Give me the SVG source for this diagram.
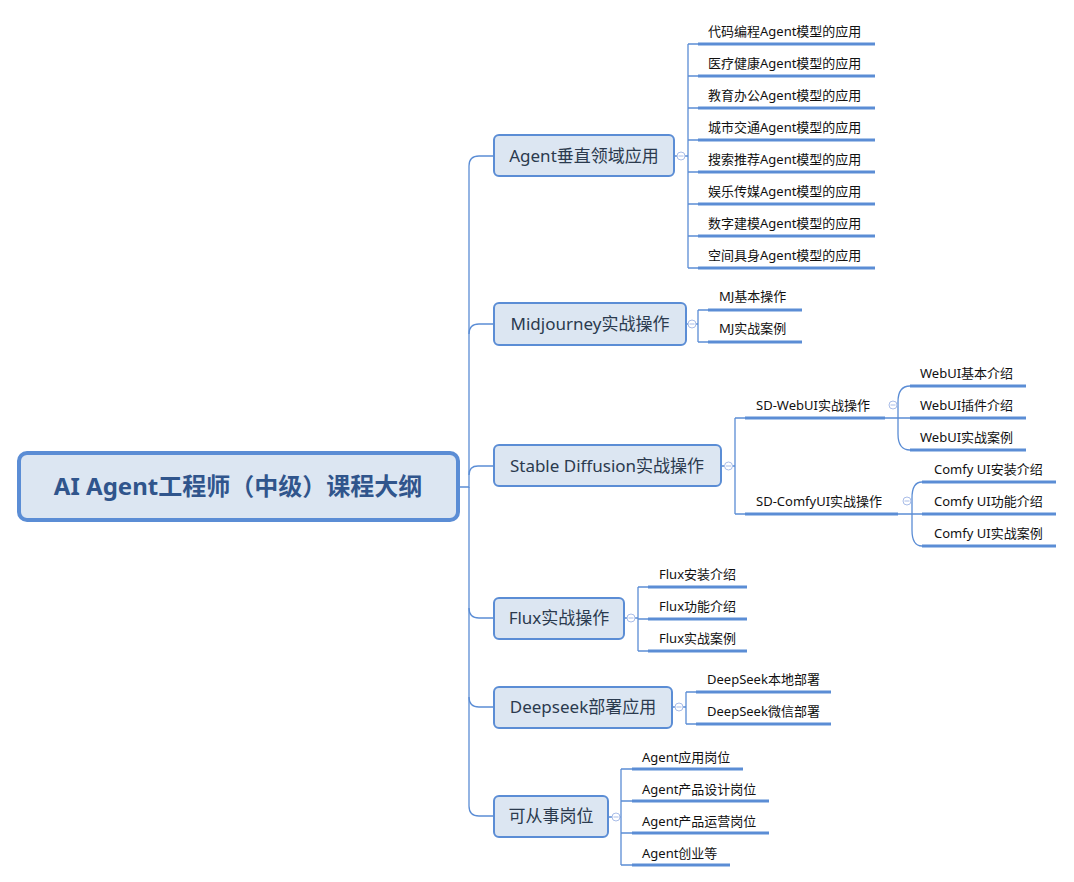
<svg xmlns="http://www.w3.org/2000/svg" width="1074" height="882" viewBox="0 0 1074 882">
<style>
.bg{fill:#ffffff}
.conn{fill:none;stroke:#5b8dd5;stroke-width:1.3}
.ul{stroke:#5b8dd5;stroke-width:3;stroke-linecap:butt}
.root{fill:#dce6f2;stroke:#5b8dd5;stroke-width:4}
.br{fill:#dce6f2;stroke:#5b8dd5;stroke-width:2}
.rt{font-family:"Noto Sans","Noto Sans CJK SC",sans-serif;font-size:24px;font-weight:bold;fill:#30558c;text-anchor:middle}
.bt{font-family:"Noto Sans","Noto Sans CJK SC",sans-serif;font-size:17px;fill:#2b3a4e;text-anchor:middle}
.lt{font-family:"Noto Sans","Noto Sans CJK SC",sans-serif;font-size:13px;fill:#111111}
.cb{fill:#ffffff;stroke:#a9bde8;stroke-width:1}
.cm{stroke:#a9bde8;stroke-width:1}
</style>
<rect class="bg" x="0" y="0" width="1074" height="882"/>

<g id="connectors">
  <!-- trunk from root -->
  <path class="conn" d="M458 487 H469 V166 Q469 156 479 156 H494"/>
  <path class="conn" d="M469 334 Q469 324 479 324 H494"/>
  <path class="conn" d="M469 475 Q469 466 478 466 H494"/>
  <path class="conn" d="M469 487 V806 Q469 816 479 816 H494"/>
  <path class="conn" d="M469 608 Q469 618 479 618 H494"/>
  <path class="conn" d="M469 697 Q469 707 479 707 H494"/>
  <!-- Agent leaves -->
  <path class="conn" d="M674 156 H688 M688 44 V268 M688 44 H698 M688 76 H698 M688 108 H698 M688 140 H698 M688 172 H698 M688 204 H698 M688 236 H698 M688 268 H698"/>
  <!-- MJ -->
  <path class="conn" d="M686 324 H698 M698 310 V342 M698 310 H708 M698 342 H708"/>
  <!-- SD -->
  <path class="conn" d="M721 466 H735 M735 418 V514 M735 418 H745 M735 514 H745"/>
  <path class="conn" d="M885 418 H910 M910 386 Q898 386 898 402 V434 Q898 450 910 450"/>
  <path class="conn" d="M898 514 H922 M922 482 Q912 482 912 498 V530 Q912 546 922 546"/>
  <!-- Flux -->
  <path class="conn" d="M624 618 H638 M638 587 V651 M638 587 H648 M638 619 H648 M638 651 H648"/>
  <!-- Deepseek -->
  <path class="conn" d="M672 707 H686 M686 692 V724 M686 692 H696 M686 724 H696"/>
  <!-- Jobs -->
  <path class="conn" d="M608 817 H621 M621 769 V865 M621 769 H632 M621 801 H632 M621 833 H632 M621 865 H632"/>
</g>

<g id="root">
  <rect class="root" x="19" y="453" width="439" height="67" rx="8"/>
  <text class="rt" x="238" y="495">AI Agent工程师（中级）课程大纲</text>
</g>

<g id="n-agent">
  <rect class="br" x="494" y="135" width="180" height="41" rx="5"/>
  <text class="bt" x="584" y="162">Agent垂直领域应用</text>
  <circle class="cb" cx="681" cy="156" r="4"/><path class="cm" d="M678.5 156 H683.5"/>
</g>
<g id="l-agent-1"><text class="lt" x="708" y="36">代码编程Agent模型的应用</text><line class="ul" x1="698" y1="44" x2="875" y2="44"/></g>
<g id="l-agent-2"><text class="lt" x="708" y="68">医疗健康Agent模型的应用</text><line class="ul" x1="698" y1="76" x2="875" y2="76"/></g>
<g id="l-agent-3"><text class="lt" x="708" y="100">教育办公Agent模型的应用</text><line class="ul" x1="698" y1="108" x2="875" y2="108"/></g>
<g id="l-agent-4"><text class="lt" x="708" y="132">城市交通Agent模型的应用</text><line class="ul" x1="698" y1="140" x2="875" y2="140"/></g>
<g id="l-agent-5"><text class="lt" x="708" y="164">搜索推荐Agent模型的应用</text><line class="ul" x1="698" y1="172" x2="875" y2="172"/></g>
<g id="l-agent-6"><text class="lt" x="708" y="196">娱乐传媒Agent模型的应用</text><line class="ul" x1="698" y1="204" x2="875" y2="204"/></g>
<g id="l-agent-7"><text class="lt" x="708" y="228">数字建模Agent模型的应用</text><line class="ul" x1="698" y1="236" x2="875" y2="236"/></g>
<g id="l-agent-8"><text class="lt" x="708" y="260">空间具身Agent模型的应用</text><line class="ul" x1="698" y1="268" x2="875" y2="268"/></g>

<g id="n-mj">
  <rect class="br" x="494" y="303" width="192" height="42" rx="5"/>
  <text class="bt" x="590" y="330">Midjourney实战操作</text>
  <circle class="cb" cx="692" cy="324" r="4"/><path class="cm" d="M689.5 324 H694.5"/>
</g>
<g id="l-mj-1"><text class="lt" x="719" y="301">MJ基本操作</text><line class="ul" x1="708" y1="310" x2="802" y2="310"/></g>
<g id="l-mj-2"><text class="lt" x="719" y="333">MJ实战案例</text><line class="ul" x1="708" y1="342" x2="802" y2="342"/></g>

<g id="n-sd">
  <rect class="br" x="494" y="445" width="227" height="41" rx="5"/>
  <text class="bt" x="607" y="472">Stable Diffusion实战操作</text>
  <circle class="cb" cx="728.5" cy="466" r="4"/><path class="cm" d="M726 466 H731"/>
</g>
<g id="s-webui">
  <text class="lt" x="756" y="410">SD-WebUI实战操作</text><line class="ul" x1="745" y1="418" x2="885" y2="418"/>
  <circle class="cb" cx="893" cy="405" r="4"/><path class="cm" d="M890.5 405 H895.5"/>
</g>
<g id="l-webui-1"><text class="lt" x="920" y="378">WebUI基本介绍</text><line class="ul" x1="910" y1="386" x2="1026" y2="386"/></g>
<g id="l-webui-2"><text class="lt" x="920" y="410">WebUI插件介绍</text><line class="ul" x1="910" y1="418" x2="1026" y2="418"/></g>
<g id="l-webui-3"><text class="lt" x="920" y="442">WebUI实战案例</text><line class="ul" x1="910" y1="450" x2="1026" y2="450"/></g>
<g id="s-comfy">
  <text class="lt" x="756" y="506">SD-ComfyUI实战操作</text><line class="ul" x1="745" y1="514" x2="898" y2="514"/>
  <circle class="cb" cx="907" cy="501" r="4"/><path class="cm" d="M904.5 501 H909.5"/>
</g>
<g id="l-comfy-1"><text class="lt" x="934" y="474">Comfy UI安装介绍</text><line class="ul" x1="922" y1="482" x2="1056" y2="482"/></g>
<g id="l-comfy-2"><text class="lt" x="934" y="506">Comfy UI功能介绍</text><line class="ul" x1="922" y1="514" x2="1056" y2="514"/></g>
<g id="l-comfy-3"><text class="lt" x="934" y="538">Comfy UI实战案例</text><line class="ul" x1="922" y1="546" x2="1056" y2="546"/></g>

<g id="n-flux">
  <rect class="br" x="494" y="598" width="130" height="41" rx="5"/>
  <text class="bt" x="559" y="624">Flux实战操作</text>
  <circle class="cb" cx="631" cy="618" r="4"/><path class="cm" d="M628.5 618 H633.5"/>
</g>
<g id="l-flux-1"><text class="lt" x="659" y="579">Flux安装介绍</text><line class="ul" x1="648" y1="587" x2="747" y2="587"/></g>
<g id="l-flux-2"><text class="lt" x="659" y="611">Flux功能介绍</text><line class="ul" x1="648" y1="619" x2="747" y2="619"/></g>
<g id="l-flux-3"><text class="lt" x="659" y="643">Flux实战案例</text><line class="ul" x1="648" y1="651" x2="747" y2="651"/></g>

<g id="n-deepseek">
  <rect class="br" x="494" y="687" width="178" height="41" rx="5"/>
  <text class="bt" x="583" y="713">Deepseek部署应用</text>
  <circle class="cb" cx="679" cy="707" r="4"/><path class="cm" d="M676.5 707 H681.5"/>
</g>
<g id="l-ds-1"><text class="lt" x="707" y="684">DeepSeek本地部署</text><line class="ul" x1="696" y1="692" x2="831" y2="692"/></g>
<g id="l-ds-2"><text class="lt" x="707" y="716">DeepSeek微信部署</text><line class="ul" x1="696" y1="724" x2="831" y2="724"/></g>

<g id="n-jobs">
  <rect class="br" x="494" y="796" width="114" height="41" rx="5"/>
  <text class="bt" x="551" y="822">可从事岗位</text>
  <circle class="cb" cx="616" cy="817" r="4"/><path class="cm" d="M613.5 817 H618.5"/>
</g>
<g id="l-job-1"><text class="lt" x="642" y="762">Agent应用岗位</text><line class="ul" x1="632" y1="769" x2="743" y2="769"/></g>
<g id="l-job-2"><text class="lt" x="642" y="794">Agent产品设计岗位</text><line class="ul" x1="632" y1="801" x2="769" y2="801"/></g>
<g id="l-job-3"><text class="lt" x="642" y="826">Agent产品运营岗位</text><line class="ul" x1="632" y1="833" x2="769" y2="833"/></g>
<g id="l-job-4"><text class="lt" x="642" y="858">Agent创业等</text><line class="ul" x1="632" y1="865" x2="730" y2="865"/></g>
</svg>
